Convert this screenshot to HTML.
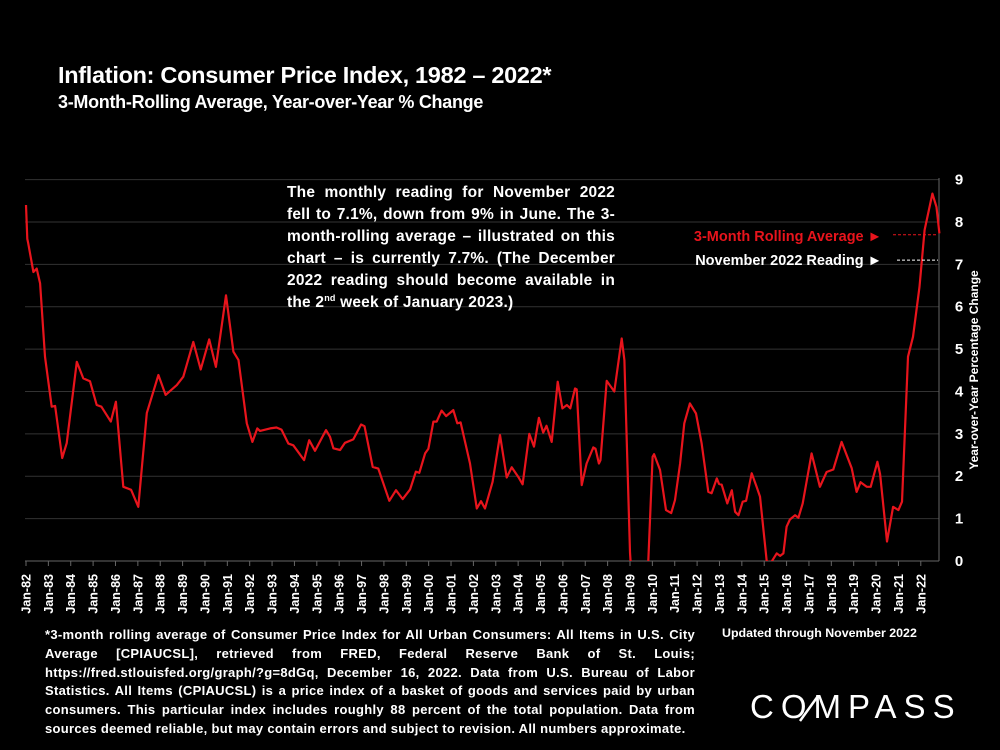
<!DOCTYPE html>
<html><head><meta charset="utf-8"><style>
html,body{margin:0;padding:0;background:#000;}
body{width:1000px;height:750px;position:relative;overflow:hidden;font-family:"Liberation Sans",sans-serif;color:#fff;font-weight:bold;}
#title{position:absolute;left:58px;top:62px;font-size:23.5px;letter-spacing:-0.3px;}
#subtitle{position:absolute;left:58px;top:92px;font-size:18px;letter-spacing:-0.3px;}
#note{position:absolute;left:287px;top:182px;width:328px;font-size:15.5px;line-height:22px;letter-spacing:0.2px;}
.j{text-align:justify;text-align-last:justify;white-space:nowrap;}
.l{white-space:nowrap;}
#note sup{font-size:9px;line-height:0;}
#foot{position:absolute;left:45px;top:626px;width:650px;font-size:13px;line-height:18.8px;letter-spacing:0.3px;}
#upd{position:absolute;left:722px;top:626px;font-size:12.4px;}
#logo{position:absolute;left:750px;top:688px;font-size:33px;font-weight:normal;letter-spacing:7px;}
svg{position:absolute;left:0;top:0;}
</style></head><body>
<div id="title">Inflation: Consumer Price Index, 1982 – 2022*</div>
<div id="subtitle">3-Month-Rolling Average, Year-over-Year % Change</div>
<svg id="chart" width="1000" height="750"></svg>
<div id="note">
<div class="j">The monthly reading for November 2022</div>
<div class="j">fell to 7.1%, down from 9% in June. The 3-</div>
<div class="j">month-rolling average – illustrated on this</div>
<div class="j">chart – is currently 7.7%. (The December</div>
<div class="j">2022 reading should become available in</div>
<div class="l">the 2<sup>nd</sup> week of January 2023.)</div>
</div>
<div id="foot">
<div class="j">*3-month rolling average of Consumer Price Index for All Urban Consumers: All Items in U.S. City</div>
<div class="j">Average [CPIAUCSL], retrieved from FRED, Federal Reserve Bank of St. Louis;</div>
<div class="j">https://fred.stlouisfed.org/graph/?g=8dGq, December 16, 2022. Data from U.S. Bureau of Labor</div>
<div class="j">Statistics. All Items (CPIAUCSL) is a price index of a basket of goods and services paid by urban</div>
<div class="j">consumers. This particular index includes roughly 88 percent of the total population. Data from</div>
<div class="l">sources deemed reliable, but may contain errors and subject to revision. All numbers approximate.</div>
</div>
<div id="upd">Updated through November 2022</div>
<div id="logo">COMPASS</div>
<script>
const dates=[1982.0,1982.06,1982.1,1982.33,1982.48,1982.63,1982.85,1983.15,1983.3,1983.62,1983.82,1984.27,1984.56,1984.86,1985.16,1985.37,1985.79,1986.02,1986.35,1986.7,1987.02,1987.4,1987.92,1988.24,1988.74,1989.03,1989.48,1989.81,1990.19,1990.49,1990.94,1991.27,1991.5,1991.87,1992.12,1992.34,1992.46,1992.91,1993.2,1993.42,1993.73,1993.95,1994.43,1994.66,1994.92,1995.41,1995.59,1995.74,1996.04,1996.26,1996.63,1996.98,1997.13,1997.5,1997.75,1998.24,1998.54,1998.84,1999.17,1999.43,1999.58,1999.84,1999.99,2000.21,2000.36,2000.58,2000.78,2001.1,2001.28,2001.43,2001.85,2002.15,2002.34,2002.52,2002.86,2003.19,2003.49,2003.71,2004.01,2004.2,2004.5,2004.71,2004.93,2005.12,2005.27,2005.5,2005.77,2005.98,2006.18,2006.33,2006.54,2006.62,2006.84,2007.06,2007.36,2007.46,2007.61,2007.68,2007.96,2008.3,2008.63,2008.75,2009.0,2009.15,2009.45,2009.75,2009.82,2010.01,2010.08,2010.34,2010.61,2010.84,2011.01,2011.24,2011.43,2011.68,2011.95,2012.2,2012.5,2012.65,2012.88,2012.98,2013.1,2013.35,2013.55,2013.7,2013.85,2014.04,2014.19,2014.44,2014.66,2014.81,2015.11,2015.29,2015.56,2015.71,2015.86,2016.0,2016.15,2016.38,2016.53,2016.72,2017.12,2017.49,2017.79,2018.09,2018.46,2018.91,2019.13,2019.31,2019.58,2019.76,2020.06,2020.18,2020.49,2020.76,2021.0,2021.16,2021.43,2021.65,2021.94,2022.17,2022.52,2022.7,2022.83];
const values=[8.4,7.6,7.5,6.82,6.9,6.55,4.82,3.64,3.66,2.43,2.78,4.7,4.31,4.24,3.68,3.64,3.29,3.76,1.75,1.68,1.28,3.49,4.39,3.92,4.15,4.35,5.17,4.52,5.23,4.58,6.27,4.94,4.74,3.25,2.81,3.13,3.07,3.13,3.15,3.1,2.77,2.73,2.38,2.85,2.6,3.09,2.93,2.66,2.62,2.79,2.87,3.22,3.18,2.22,2.18,1.42,1.67,1.46,1.69,2.11,2.08,2.54,2.65,3.29,3.29,3.55,3.42,3.56,3.25,3.27,2.3,1.24,1.41,1.24,1.87,2.97,1.97,2.21,1.98,1.81,3.0,2.7,3.38,3.03,3.19,2.81,4.23,3.6,3.68,3.6,4.07,4.05,1.79,2.3,2.68,2.65,2.3,2.38,4.25,4.0,5.25,4.74,0.2,-1.0,-1.5,-0.5,0,2.46,2.52,2.15,1.2,1.13,1.44,2.3,3.25,3.72,3.48,2.78,1.63,1.6,1.95,1.82,1.8,1.36,1.67,1.16,1.08,1.4,1.42,2.07,1.75,1.52,0,-0.05,0.18,0.12,0.18,0.81,0.98,1.08,1.02,1.36,2.54,1.75,2.1,2.16,2.81,2.19,1.63,1.86,1.75,1.75,2.34,2.05,0.46,1.28,1.2,1.4,4.82,5.29,6.47,7.81,8.67,8.35,7.73];
const yTicks=[0,1,2,3,4,5,6,7,8,9];
const xYears=[1982,1983,1984,1985,1986,1987,1988,1989,1990,1991,1992,1993,1994,1995,1996,1997,1998,1999,2000,2001,2002,2003,2004,2005,2006,2007,2008,2009,2010,2011,2012,2013,2014,2015,2016,2017,2018,2019,2020,2021,2022];
const latestAvg=7.7, latestReading=7.1;
const NS="http://www.w3.org/2000/svg";
const svg=document.getElementById('chart');
const X0=26,X1=939,Y0=561,Y9=179.6;
const xs=d=>X0+(d-1982)*22.37;
const ys=v=>Y0-(v/9)*(Y0-Y9);
function mk(t,a,p){const e=document.createElementNS(NS,t);for(const k in a)e.setAttribute(k,a[k]);(p||svg).appendChild(e);return e;}
const defs=mk('defs',{});
const cp=mk('clipPath',{id:'clip'},defs);mk('rect',{x:0,y:150,width:X1+2,height:Y0-150},cp);
yTicks.forEach(v=>{
  const g=mk('line',{x1:25,x2:X1,y1:ys(v),y2:ys(v),stroke:'#333','stroke-width':1});
  
  
  const t=mk('text',{x:959,y:ys(v)+5,'font-size':15,'font-weight':'bold',fill:'#fff','text-anchor':'middle'});
  t.textContent=v;
  
  
});
const ax=mk('line',{x1:X1,x2:X1,y1:178,y2:Y0,stroke:'#666','stroke-width':1});


const bx=mk('line',{x1:25,x2:X1,y1:Y0,y2:Y0,stroke:'#666','stroke-width':1});


xYears.forEach(yr=>{
  const x=xs(yr);
  mk('line',{x1:x,x2:x,y1:Y0,y2:Y0+5,stroke:'#666'});
  const t=mk('text',{transform:`translate(${x+4.5},574) rotate(-90)`,'font-size':12.5,'font-weight':'bold',fill:'#fff','text-anchor':'end'});
  t.textContent='Jan-'+String(yr).slice(2);
  
  
});
const yt=mk('text',{transform:'translate(978,370) rotate(-90)','font-size':12,'font-weight':'bold',fill:'#fff','text-anchor':'middle'});
yt.textContent='Year-over-Year Percentage Change';


let d='';dates.forEach((dt,i)=>{d+=(i?'L':'M')+xs(dt).toFixed(1)+' '+ys(values[i]).toFixed(1);});
const line=mk('path',{d:d,fill:'none',stroke:'#e8141c','stroke-width':2.2,'stroke-linejoin':'round','clip-path':'url(#clip)'});


const l1=mk('line',{x1:893,x2:938,y1:ys(latestAvg),y2:ys(latestAvg),stroke:'#e8141c','stroke-width':1,'stroke-dasharray':'3,2'});


const l2=mk('line',{x1:897,x2:938,y1:ys(latestReading),y2:ys(latestReading),stroke:'#fff','stroke-width':1,'stroke-dasharray':'3,2'});


const t1=mk('text',{x:882,y:241,'font-size':14.5,'font-weight':'bold',fill:'#e8141c','text-anchor':'end'});
t1.textContent='3-Month Rolling Average ►';


const t2=mk('text',{x:882,y:265,'font-size':14.5,'font-weight':'bold',fill:'#fff','text-anchor':'end'});
t2.textContent='November 2022 Reading ►';


const sl=mk('line',{x1:800,y1:721,x2:818,y2:696,stroke:'#fff','stroke-width':2.5});


</script>
</body></html>
